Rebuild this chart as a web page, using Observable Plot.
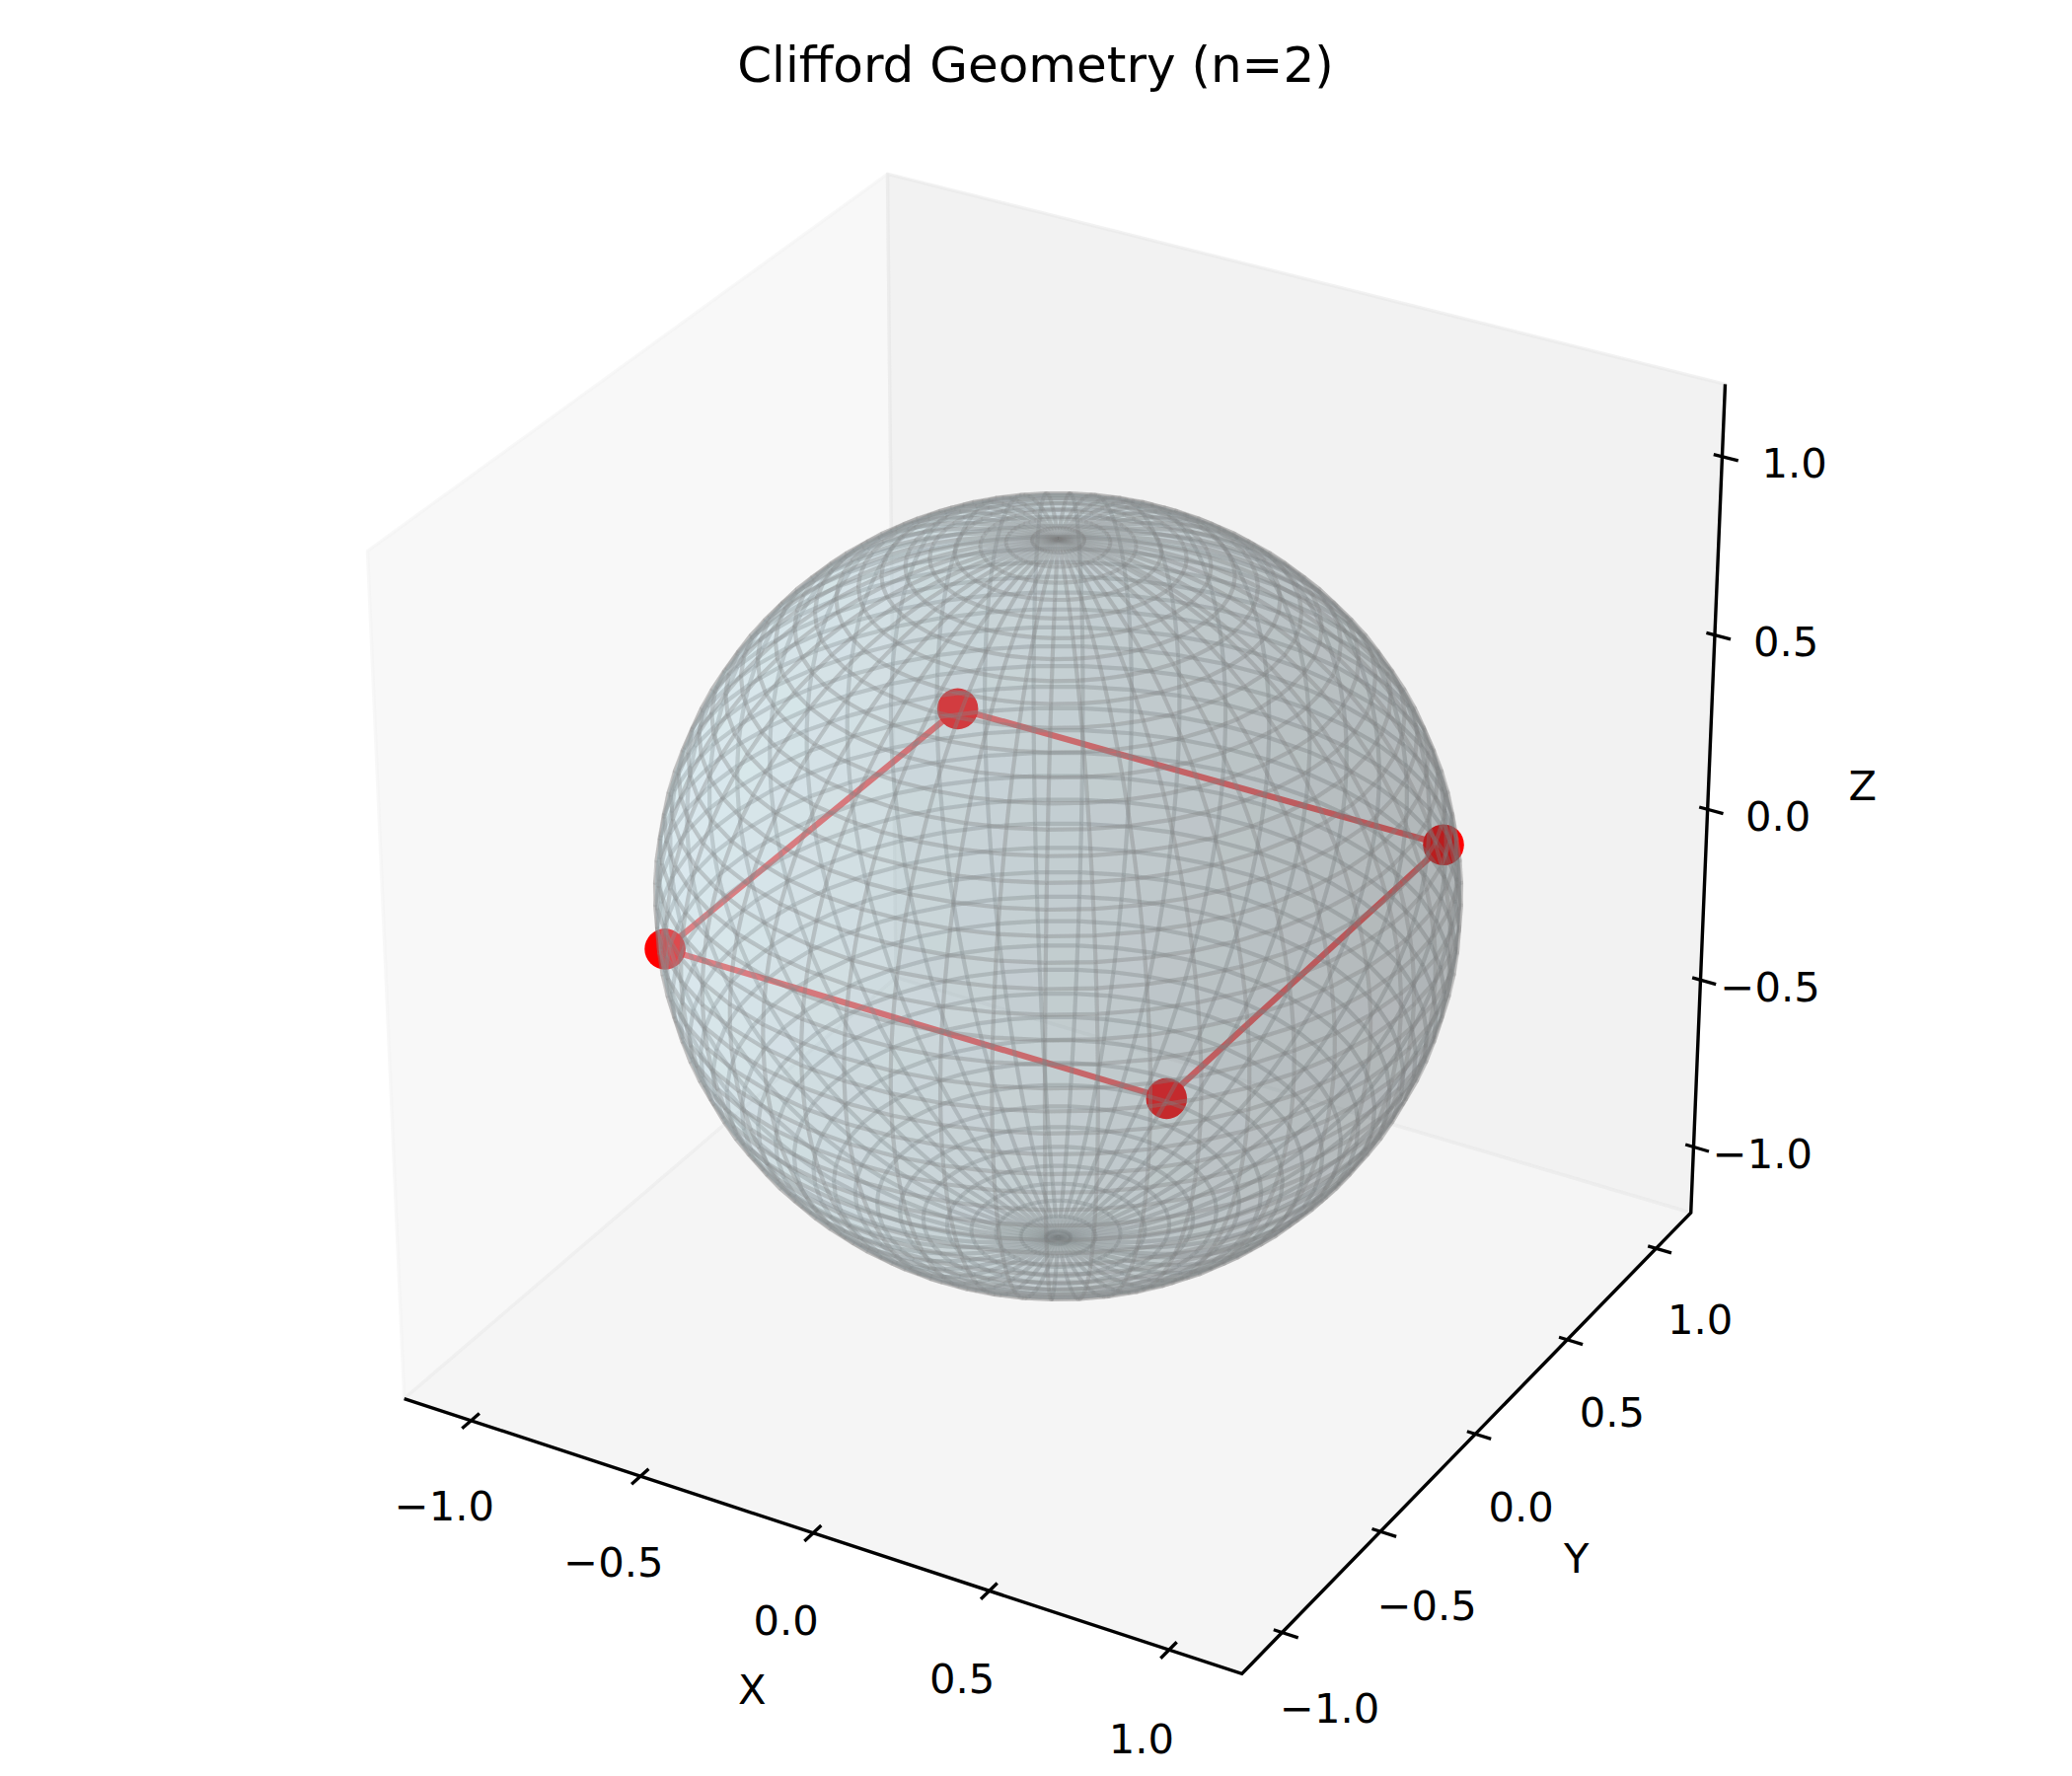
<!DOCTYPE html>
<html>
<head>
<meta charset="utf-8">
<script src="https://cdn.jsdelivr.net/npm/d3@7"></script>
<script src="https://cdn.jsdelivr.net/npm/@observablehq/plot@0.6"></script>
<style>html,body{margin:0;padding:0;background:#fff}</style>
</head>
<body>
<div id="chart"></div>
<script>
// ---- chart values ----
const titleText = "Clifford Geometry (n=2)";
const tickValues = [-1, -0.5, 0, 0.5, 1];
const tickLabels = ["\u22121.0", "\u22120.5", "0.0", "0.5", "1.0"];
const axisLimit = 1.2;
const vertexX = [-0.7071, -0.7071, 0.7071, 0.7071];
const vertexY = [-0.7071, 0.7071, 0.7071, -0.7071];
const vertexZ = [0, 0, 0, 0];
const meshSamples = 100;
const meshStride = 2;

// ---- 3D view: elevation 30, azimuth -60, perspective ----
const elev = 30 * Math.PI / 180, azim = -60 * Math.PI / 180;
const U = [-Math.sin(azim), Math.cos(azim), 0];
const V = [-Math.sin(elev) * Math.cos(azim), -Math.sin(elev) * Math.sin(azim), Math.cos(elev)];
const W = [Math.cos(elev) * Math.cos(azim), Math.cos(elev) * Math.sin(azim), Math.sin(elev)];
const dot3 = (a, b) => a[0] * b[0] + a[1] * b[1] + a[2] * b[2];
const viewCx = 1072, viewCy = 908, viewK = 490, viewT = 0.0537;
function project(p) {
  const q = [p[0] / axisLimit, p[1] / axisLimit, p[2] / axisLimit];
  const s = 1 - viewT * dot3(q, W);
  return [viewCx + viewK * dot3(q, U) / s, viewCy - viewK * dot3(q, V) / s];
}
const px = d => project(d)[0];
const py = d => project(d)[1];

// ---- panes ----
const L = axisLimit;
const paneLeft = [[-L,-L,-L],[-L,L,-L],[-L,L,L],[-L,-L,L],[-L,-L,-L]];
const paneBack = [[-L,L,-L],[L,L,-L],[L,L,L],[-L,L,L],[-L,L,-L]];
const paneFloor = [[-L,-L,-L],[L,-L,-L],[L,L,-L],[-L,L,-L],[-L,-L,-L]];

// ---- unit sphere mesh, sorted back to front and lit from the default light ----
const lightDir = [-0.7071 * 0.9428, -0.7071 * 0.9428, 0.3333];
const baseColor = [173, 216, 230];
const meshIndex = [...d3.range(0, meshSamples - 1, meshStride), meshSamples - 1];
const point = (i, j) => {
  const u = 2 * Math.PI * i / (meshSamples - 1), v = Math.PI * j / (meshSamples - 1);
  return [Math.cos(u) * Math.sin(v), Math.sin(u) * Math.sin(v), Math.cos(v)];
};
const quads = [];
d3.pairs(meshIndex).forEach(([i0, i1]) => d3.pairs(meshIndex).forEach(([j0, j1]) => {
  const corners = [point(i0, j0), point(i1, j0), point(i1, j1), point(i0, j1)];
  const mean = [0, 1, 2].map(k => d3.mean(corners, c => c[k]));
  const len = Math.hypot(...mean);
  const shade = dot3(mean.map(m => m / len), lightDir);
  const f = 0.3 + 0.7 * (shade + 1) / 2;
  quads.push({corners, depth: dot3(mean, W), color: `rgb(${baseColor.map(c => Math.round(c * f)).join(",")})`});
}));
quads.sort((a, b) => a.depth - b.depth);
const sphereRows = quads.flatMap((q, id) =>
  [...q.corners, q.corners[0]].map(c => Object.assign([c[0], c[1], c[2]], {id, color: q.color})));

// ---- axes ----
const axisPath = [[-L,-L,-L],[L,-L,-L],[L,L,-L],[L,L,L]];
const xTick = v => [[v, -L + 0.038, -L], [v, -L - 0.041, -L]];
const yTick = v => [[L - 0.0235, v, -L], [L + 0.044, v, -L]];
const zTick = v => [[L - 0.0235, L, v], [L + 0.044, L, v]];
const tickMark = f => Plot.link(tickValues.map(f), {
  x1: d => project(d[0])[0], y1: d => project(d[0])[1],
  x2: d => project(d[1])[0], y2: d => project(d[1])[1],
  stroke: "black", strokeWidth: 3.3, strokeLinecap: "butt"
});
const fontFamily = "DejaVu Sans";
const labelMark = (anchor, texts, dy) => Plot.text(texts, {
  x: (d, i) => project(anchor(i))[0], y: (d, i) => project(anchor(i))[1], text: d => d,
  fontSize: 41.67, fontFamily, fill: "black", textAnchor: "middle", lineAnchor: "middle", dy
});
const polyRows = vertexX.map((x, i) => [x, vertexY[i], vertexZ[i]]);
const paneMark = (rows, c) => Plot.line(rows, {
  x: px, y: py, fill: c, fillOpacity: 0.5, stroke: c, strokeOpacity: 0.5, strokeWidth: 3.3
});

const chart = Plot.plot({
  width: 2100, height: 1800,
  marginTop: 0, marginRight: 0, marginBottom: 0, marginLeft: 0,
  x: {type: "identity", axis: null},
  y: {type: "identity", axis: null},
  color: {type: "identity"},
  style: {background: "white"},
  marks: [
    paneMark(paneLeft, "rgb(242,242,242)"),
    paneMark(paneBack, "rgb(230,230,230)"),
    paneMark(paneFloor, "rgb(236,236,236)"),
    Plot.line(axisPath, {x: px, y: py, stroke: "black", strokeWidth: 3.4, strokeLinecap: "butt", strokeLinejoin: "miter", strokeMiterlimit: 4}),
    tickMark(xTick), tickMark(yTick), tickMark(zTick),
    labelMark(i => [tickValues[i], -L - 0.132, -L - 0.18], tickLabels, 1),
    labelMark(i => [L + 0.133, tickValues[i], -L - 0.173], tickLabels, 2),
    labelMark(i => [L + 0.165, L + 0.0668, tickValues[i]], tickLabels, 3),
    labelMark(() => [0, -L - 0.294, -L - 0.285], ["X"], 2),
    labelMark(() => [L + 0.291, 0, -L - 0.269], ["Y"], 3.5),
    labelMark(() => [L + 0.284, L + 0.31, 0], ["Z"], 2),
    Plot.line([...polyRows, polyRows[0]], {x: px, y: py, stroke: "red", strokeOpacity: 0.65, strokeWidth: 6.25, strokeLinecap: "butt"}),
    Plot.dot(polyRows, {x: px, y: py, r: 20.8, fill: "red", stroke: "none"}),
    Plot.line(sphereRows, {
      x: px, y: py, z: "id", fill: "color", fillOpacity: 0.2,
      stroke: "gray", strokeOpacity: 0.2, strokeWidth: 4.17, strokeLinecap: "butt"
    }),
    Plot.text([titleText], {
      frameAnchor: "top", dx: -1, dy: 66, text: d => d,
      fontSize: 50, fontFamily, fill: "black", textAnchor: "middle", lineAnchor: "middle"
    })
  ]
});
document.getElementById("chart").appendChild(chart);
</script>
</body>
</html>
